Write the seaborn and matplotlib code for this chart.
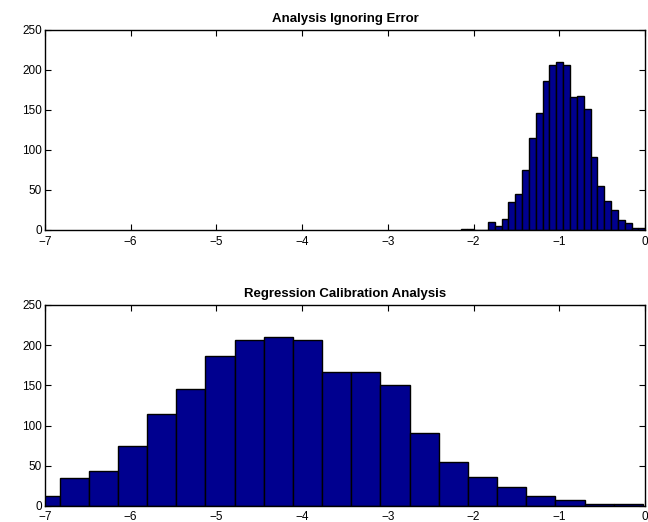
import numpy as np
import pandas as pd
import matplotlib
matplotlib.use("Agg")
import matplotlib.pyplot as plt
import seaborn as sns

# Histogram counts (same simulated slope draws, shown on two scales)
counts = [1, 1, 0, 0, 9, 5, 13, 35, 44, 75, 114, 146, 186, 206, 210, 206,
          166, 167, 151, 91, 55, 36, 24, 12, 8, 2, 2]

# Bin layout of each analysis
naive_bin_start, naive_bin_width = -2.152, 0.0798
rc_bin_start, rc_bin_width = -9.211, 0.3402

titles = ["Analysis Ignoring Error", "Regression Calibration Analysis"]
x_ticks = [-7, -6, -5, -4, -3, -2, -1, 0]
y_ticks = [0, 50, 100, 150, 200, 250]

sns.set_style("white")
plt.rcParams["font.family"] = ["Liberation Sans", "DejaVu Sans"]
plt.rcParams["text.color"] = "black"
plt.rcParams["axes.titlecolor"] = "black"

fig = plt.figure(figsize=(6.48, 5.22), dpi=100)
ax_top = fig.add_axes([0.0694, 0.5603, 0.926, 0.3831])
ax_bot = fig.add_axes([0.0694, 0.0307, 0.926, 0.3851])

bar_color = "#00008f"

for ax, title, start, width, xpad in [
    (ax_top, titles[0], naive_bin_start, naive_bin_width, 5),
    (ax_bot, titles[1], rc_bin_start, rc_bin_width, 3.5),
]:
    edges = [start + width * i for i in range(len(counts) + 1)]
    df = pd.DataFrame({"slope": [(a + b) / 2 for a, b in zip(edges[:-1], edges[1:])],
                       "count": counts})
    sns.histplot(data=df, x="slope", weights="count", bins=edges, ax=ax,
                 color=bar_color, edgecolor="black", linewidth=1.0,
                 alpha=1.0)
    ax.set_xlim(-7, 0)
    ax.set_ylim(0, 250)
    ax.set_xticks(x_ticks)
    ax.set_yticks(y_ticks)
    ax.set_xlabel("")
    ax.set_ylabel("")
    ax.set_title(title, fontsize=9.5, fontweight="bold", pad=5.5, color="black")
    ax.tick_params(direction="in", length=4, width=0.8, labelsize=8.5,
                   top=True, right=True, bottom=True, left=True,
                   pad=2, colors="black")
    ax.tick_params(axis="x", pad=xpad)
    for sp in ax.spines.values():
        sp.set_visible(True)
        sp.set_color("black")
        sp.set_linewidth(1.0)

fig.savefig("out.png", dpi=100)
